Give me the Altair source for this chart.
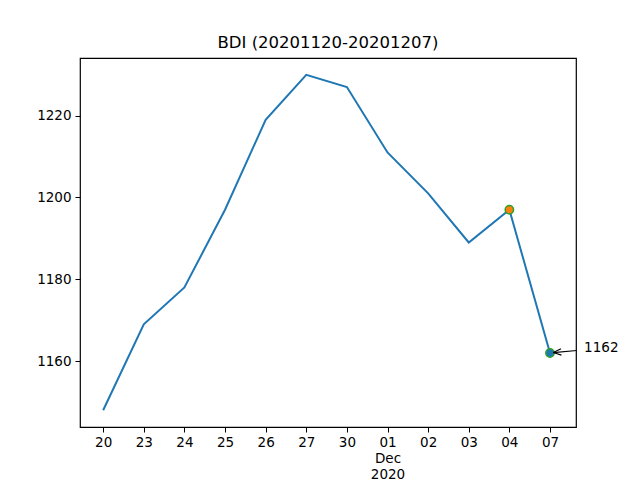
import altair as alt
import pandas as pd

# ---- data ----
day_labels = ["20", "23", "24", "25", "26", "27", "30", "01", "02", "03", "04", "07"]
bdi_values = [1148, 1169, 1178, 1197, 1219, 1230, 1227, 1211, 1201, 1189, 1197, 1162]
highlight_idx = [10, 11]
highlight_fill = ["#ff7f0e", "#1f77b4"]
annot_text = ["1162"]
y_ticks = [1160, 1180, 1200, 1220]

FONT = "DejaVu Sans"

df = pd.DataFrame({"i": list(range(len(day_labels))), "label": day_labels, "v": bdi_values})
hl = pd.DataFrame({
    "i": highlight_idx,
    "v": [bdi_values[k] for k in highlight_idx],
    "fill": highlight_fill,
})
ann = pd.DataFrame({"x": [11.84], "y": [1163.2], "t": annot_text})
arrow = pd.DataFrame({"x": [11.66], "x2": [11.08], "y": [1162.6], "y2": [1162.1]})

lab_list = ",".join(
    ("['01','Dec','2020']" if l == "01" else f"'{l}'") for l in day_labels
)
label_expr = f"[{lab_list}][datum.value]"

xscale = alt.Scale(domain=[-0.57, 11.64], nice=False, zero=False)
yscale = alt.Scale(domain=[1143.9, 1234.1], nice=False, zero=False)

xenc = alt.X("i:Q", scale=xscale, axis=alt.Axis(
    values=list(range(len(day_labels))), labelExpr=label_expr, title=None,
    grid=False, domain=False, tickColor="black", tickSize=5, labelPadding=3,
    labelFont=FONT, labelFontSize=13.5, labelColor="black", labelLineHeight=16,
    labelBaseline="top", labelFlush=False, labelOverlap=False))
yenc = alt.Y("v:Q", scale=yscale, axis=alt.Axis(
    values=y_ticks, title=None, grid=False, domain=False, tickColor="black",
    tickSize=5, labelPadding=4, labelFont=FONT, labelFontSize=13.5,
    labelColor="black", format="d"))

line = alt.Chart(df).mark_line(color="#1f77b4", strokeWidth=2).encode(x=xenc, y=yenc)

pts = alt.Chart(hl).mark_point(filled=True, size=70, stroke="#2ca02c",
                               strokeWidth=1.5, opacity=1, shape="circle").encode(
    x="i:Q", y="v:Q", fill=alt.Fill("fill:N", scale=None))

txt = alt.Chart(ann).mark_text(align="left", baseline="middle", font=FONT,
                               fontSize=13.5, color="black").encode(
    x="x:Q", y="y:Q", text="t:N")

rule = alt.Chart(arrow).mark_rule(color="black", strokeWidth=1.2).encode(
    x="x:Q", x2="x2:Q", y="y:Q", y2="y2:Q")

head = alt.Chart(arrow).mark_point(
    shape="M0,0L2,-0.8M0,0L2,0.8", filled=False, size=64, stroke="black",
    strokeWidth=1.2, angle=356, opacity=1).encode(x="x2:Q", y="y2:Q")

chart = alt.layer(line, pts, rule, head, txt).properties(
    width=496, height=369,
    background="white",
    title=alt.TitleParams("BDI (20201120-20201207)", font=FONT, fontSize=16.5,
                          fontWeight="normal", color="black", offset=7),
    padding={"left": 72, "top": 50, "right": 46, "bottom": 54},
    autosize=alt.AutoSizeParams(type="none"),
).configure_view(stroke="black", strokeWidth=1.2)

chart.save("out.html", embed_options={"renderer": "svg", "actions": False})
